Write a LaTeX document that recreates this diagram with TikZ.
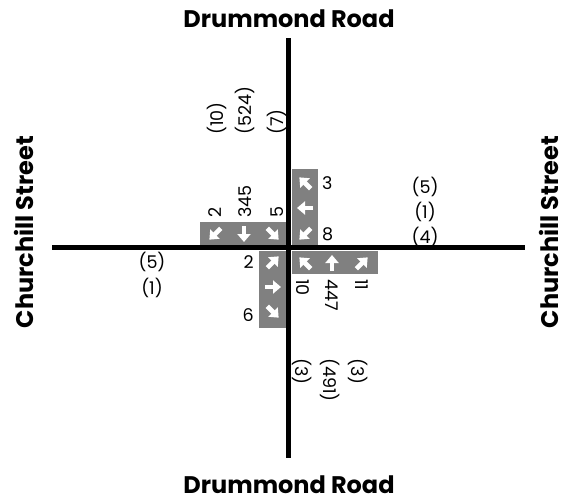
\documentclass[tikz,border=0pt]{standalone}
\usepackage{fontspec}
\setmainfont{Poppins}
\usetikzlibrary{arrows.meta}
\definecolor{boxgray}{HTML}{808080}
\newcommand\flowarrow[3]{\draw[flow] ([shift={(#3:-8pt)}]#1,#2) -- ([shift={(#3:8pt)}]#1,#2);}
\begin{document}
\begin{tikzpicture}[x=1pt,y=-1pt,
  road/.style={line width=5.5pt},
  box/.style={fill=boxgray, draw=none, inner sep=0pt},
  flow/.style={white, line width=4.6pt, -{Triangle[length=8pt,width=13pt]}},
  num/.style={font=\fontsize{17.5}{17.5}\selectfont, inner sep=0pt},
  title/.style={font=\bfseries\fontsize{24}{24}\selectfont, inner sep=0pt, text height=0.72em, text depth=0pt}]
\useasboundingbox (0,0) rectangle (567,501);
% roads
\coordinate (nTop) at (288.7,38);
\coordinate (nBot) at (288.7,458);
\coordinate (wEnd) at (52,247.5);
\coordinate (eEnd) at (525,247.5);
\draw[road] (nTop) -- (nBot);
\draw[road] (wEnd) -- (eEnd);
% boxes
\node[box, minimum width=86, minimum height=23] (sb) at (243,233.5) {};
\node[box, minimum width=26, minimum height=76] (wb) at (305,207) {};
\node[box, minimum width=86, minimum height=23] (nb) at (335,262.5) {};
\node[box, minimum width=27, minimum height=77] (eb) at (272.5,289.5) {};
% arrows
\flowarrow{215}{234}{225}
\flowarrow{244}{234}{270}
\flowarrow{273}{234}{315}
\flowarrow{305}{183}{135}
\flowarrow{305}{208}{180}
\flowarrow{305}{234}{225}
\flowarrow{305}{263}{135}
\flowarrow{332}{263}{90}
\flowarrow{362}{263}{45}
\flowarrow{273}{262}{45}
\flowarrow{273}{287}{0}
\flowarrow{273}{312}{315}
% counts
\node[num, anchor=east] (e2) at (254,262) {2};
\node[num, anchor=east] (e6) at (254,315) {6};
\node[num, anchor=west] (w3) at (322,183) {3};
\node[num, anchor=west] (w8) at (322,234) {8};
\node[num, rotate=90, anchor=west] (s2) at (215,218) {2};
\node[num, rotate=90, anchor=west] (s345) at (245,218) {345};
\node[num, rotate=90, anchor=west] (s5) at (277,218) {5};
\node[num, rotate=-90, anchor=west] (n10) at (303,279) {10};
\node[num, rotate=-90, anchor=west] (n447) at (332,279) {447};
\node[num, rotate=-90, anchor=west] (n11) at (362,279) {11};
% peds / bikes
\node[num, rotate=90, anchor=west] (p10) at (217,135) {(10)};
\node[num, rotate=90, anchor=west] (p524) at (245,135) {(524)};
\node[num, rotate=90, anchor=west] (p7) at (277,135) {(7)};
\node[num, rotate=-90, anchor=west] (q3a) at (302,358) {(3)};
\node[num, rotate=-90, anchor=west] (q491) at (330,358) {(491)};
\node[num, rotate=-90, anchor=west] (q3b) at (358,358) {(3)};
\node[num] (r5) at (425,187) {(5)};
\node[num] (r1) at (425,212) {(1)};
\node[num] (r4) at (425,237) {(4)};
\node[num] (l5) at (152,262) {(5)};
\node[num] (l1) at (152,288) {(1)};
% street names
\node[title, anchor=base] (tN) at (289,27) {Drummond Road};
\node[title, anchor=base] (tS) at (289,493) {Drummond Road};
\node[title, rotate=90, anchor=base] (tW) at (33,232) {Churchill Street};
\node[title, rotate=90, anchor=base] (tE) at (558,232) {Churchill Street};
\end{tikzpicture}
\end{document}
